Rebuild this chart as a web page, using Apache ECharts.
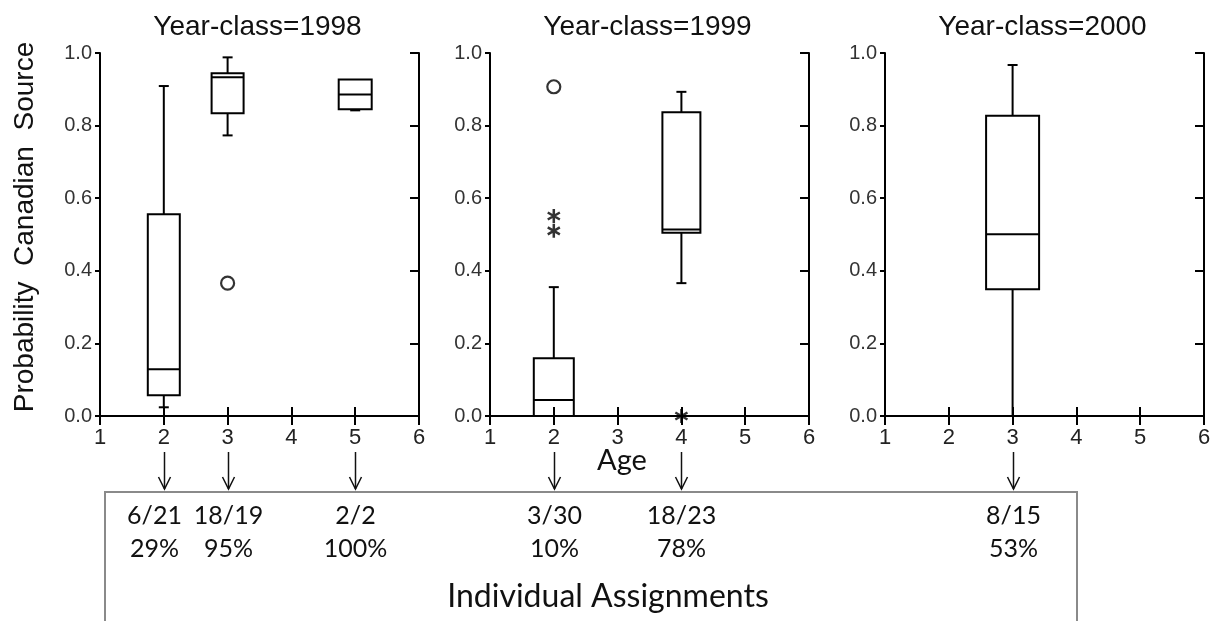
<!DOCTYPE html>
<html><head><meta charset="utf-8">
<script src="https://cdn.jsdelivr.net/npm/echarts@6/dist/echarts.min.js"></script>
<style>html,body{margin:0;padding:0;background:#fff}#c{width:1214px;height:621px}</style>
</head><body><div id="c"></div>
<script>
// ---------------- DATA ----------------
const panelTitles = ['Year-class=1998', 'Year-class=1999', 'Year-class=2000'];
const ageMin = 1, ageMax = 6, ageStep = 1;
const probMin = 0, probMax = 1, probStep = 0.2;
// [age, lower whisker, Q1, median, Q3, upper whisker]
const boxes1998 = [
  [2, 0.024, 0.057, 0.129, 0.556, 0.909],
  [3, 0.773, 0.834, 0.933, 0.944, 0.988],
  [5, 0.842, 0.845, 0.886, 0.927, 0.927]
];
const boxes1999 = [
  [2, 0.0, 0.0, 0.044, 0.159, 0.355],
  [4, 0.366, 0.505, 0.514, 0.837, 0.893]
];
const boxes2000 = [
  [3, 0.0, 0.349, 0.501, 0.827, 0.967]
];
// outliers [age, probability]
const circles1998 = [[3, 0.366]];
const circles1999 = [[2, 0.907]];
const circles2000 = [];
const stars1998 = [];
const stars1999 = [[2, 0.551], [2, 0.510], [4, 0.0]];
const stars2000 = [];
// individual assignments
const assignPanel = [0, 0, 0, 1, 1, 2];
const assignAge = [2, 3, 5, 2, 4, 3];
const assignCount = ['6/21', '18/19', '2/2', '3/30', '18/23', '8/15'];
const assignPercent = ['29%', '95%', '100%', '10%', '78%', '53%'];
const yAxisTitle = 'Probability  Canadian  Source';
const xAxisTitle = 'Age';
const footerTitle = 'Individual Assignments';

// ---------------- STYLE / LAYOUT ----------------
const gridLefts = [100, 490, 885];
const gridWidth = 319, gridTop = 53, gridHeight = 363;
const boxWidthsPx = [[32, 32, 33], [40, 38], [53]];
const assignLabelDx = [-10, 0, 0, 0, 0, 0];
const capHalf = 5;
const FONT = "Arial, 'Liberation Sans', sans-serif";
const FOOT_FONT = "Lato, Carlito, sans-serif";

const allBoxes = [boxes1998, boxes1999, boxes2000];
const allCircles = [circles1998, circles1999, circles2000];
const allStars = [stars1998, stars1999, stars2000];

const chart = echarts.init(document.getElementById('c'), null, {renderer: 'canvas'});

function makeRender(panel) {
  return function (params, api) {
    const age = api.value(0);
    const lo = api.value(1), q1 = api.value(2), med = api.value(3), q3 = api.value(4), hi = api.value(5);
    const w = boxWidthsPx[panel][params.dataIndex];
    const cx = api.coord([age, 0])[0];
    const y = v => api.coord([age, v])[1];
    const ls = {stroke: '#000', lineWidth: 2};
    const line = (x1, y1, x2, y2) => ({type: 'line', shape: {x1, y1, x2, y2}, style: ls});
    const ch = [];
    if (hi > q3) {
      ch.push(line(cx, y(q3), cx, y(hi)));
      ch.push(line(cx - capHalf, y(hi), cx + capHalf, y(hi)));
    }
    if (lo < q1) {
      ch.push(line(cx, y(lo), cx, y(q1)));
      ch.push(line(cx - capHalf, y(lo), cx + capHalf, y(lo)));
    }
    ch.push({type: 'rect', shape: {x: cx - w / 2, y: y(q3), width: w, height: y(q1) - y(q3)},
      style: {fill: 'none', stroke: '#000', lineWidth: 2}});
    ch.push(line(cx - w / 2, y(med), cx + w / 2, y(med)));
    return {type: 'group', children: ch};
  };
}

const grids = [], xAxes = [], yAxes = [], series = [];
const axisLineStyle = {color: '#000', width: 2};
for (let p = 0; p < 3; p++) {
  grids.push({left: gridLefts[p], top: gridTop, width: gridWidth, height: gridHeight});
  const xBase = {type: 'value', gridIndex: p, min: ageMin, max: ageMax, interval: ageStep,
    splitLine: {show: false}, axisLine: {show: true, lineStyle: axisLineStyle},
    axisTick: {show: true, inside: true, length: 9, lineStyle: {color: '#000', width: 2}}};
  xAxes.push(Object.assign({}, xBase, {position: 'bottom',
    axisLabel: {fontFamily: FONT, fontSize: 22, color: '#222', margin: 11}}));
  xAxes.push(Object.assign({}, xBase, {position: 'top', axisLabel: {show: false}}));
  const yBase = {type: 'value', gridIndex: p, min: probMin, max: probMax, interval: probStep,
    splitLine: {show: false}, axisLine: {show: true, lineStyle: axisLineStyle}};
  yAxes.push(Object.assign({}, yBase, {position: 'left',
    axisTick: {show: true, inside: false, length: 5, lineStyle: {color: '#000', width: 2}},
    axisLabel: {fontFamily: FONT, fontSize: 20, color: '#333', margin: 8,
      formatter: v => v.toFixed(1)}}));
  yAxes.push(Object.assign({}, yBase, {position: 'right',
    axisTick: {show: true, inside: true, length: 9, lineStyle: {color: '#000', width: 2}},
    axisLabel: {show: false}}));

  series.push({type: 'custom', xAxisIndex: 2 * p, yAxisIndex: 2 * p,
    renderItem: makeRender(p), encode: {x: 0, y: [1, 2, 3, 4, 5]},
    data: allBoxes[p], clip: false, z: 3});
  series.push({type: 'scatter', xAxisIndex: 2 * p, yAxisIndex: 2 * p, data: allCircles[p],
    symbol: 'circle', symbolSize: 13, clip: false, z: 4,
    itemStyle: {color: '#fff', borderColor: '#000', borderWidth: 2.2}});
  series.push({type: 'scatter', xAxisIndex: 2 * p, yAxisIndex: 2 * p, data: allStars[p],
    symbol: 'path://M0,-10L0,10M-8.66,-5L8.66,5M-8.66,5L8.66,-5', symbolKeepAspect: true,
    symbolSize: 14, clip: false, z: 4,
    itemStyle: {color: 'none', borderColor: '#000', borderWidth: 2.5}});
}

chart.setOption({
  animation: false,
  backgroundColor: '#fff',
  grid: grids, xAxis: xAxes, yAxis: yAxes, series: series
});

// ---------- annotations placed through the axes ----------
const g = [];
for (let p = 0; p < 3; p++) {
  g.push({type: 'text', x: gridLefts[p] + gridWidth / 2 - 2, y: 27,
    style: {text: panelTitles[p], font: '28px ' + FONT, fill: '#111', textAlign: 'center', textVerticalAlign: 'middle'}});
}
g.push({type: 'text', x: 25, y: 227, rotation: Math.PI / 2,
  style: {text: yAxisTitle, font: '28px ' + FONT, fill: '#111', textAlign: 'center', textVerticalAlign: 'middle'}});
g.push({type: 'text', x: 622, y: 461,
  style: {text: xAxisTitle, font: '29px ' + FOOT_FONT, fill: '#111', textAlign: 'center', textVerticalAlign: 'middle'}});
g.push({type: 'rect', shape: {x: 105, y: 492, width: 972, height: 200},
  style: {fill: 'none', stroke: '#8a8a8a', lineWidth: 2}});
g.push({type: 'text', x: 608, y: 597,
  style: {text: footerTitle, font: '32px ' + FOOT_FONT, fill: '#111', textAlign: 'center', textVerticalAlign: 'middle'}});
assignAge.forEach((age, i) => {
  const px = Math.round(chart.convertToPixel({xAxisIndex: assignPanel[i] * 2}, age)) + 0.5;
  const aStyle = {stroke: '#111', lineWidth: 1.5};
  g.push({type: 'line', shape: {x1: px, y1: 452, x2: px, y2: 489}, style: aStyle});
  g.push({type: 'polyline', shape: {points: [[px - 6, 477], [px, 489], [px + 6, 477]]}, style: Object.assign({fill: 'none'}, aStyle)});
  g.push({type: 'text', x: px + assignLabelDx[i], y: 516,
    style: {text: assignCount[i], font: '25px ' + FOOT_FONT, fill: '#111', textAlign: 'center', textVerticalAlign: 'middle'}});
  g.push({type: 'text', x: px + assignLabelDx[i], y: 549,
    style: {text: assignPercent[i], font: '25px ' + FOOT_FONT, fill: '#111', textAlign: 'center', textVerticalAlign: 'middle'}});
});
chart.setOption({graphic: g});
</script>
</body></html>
